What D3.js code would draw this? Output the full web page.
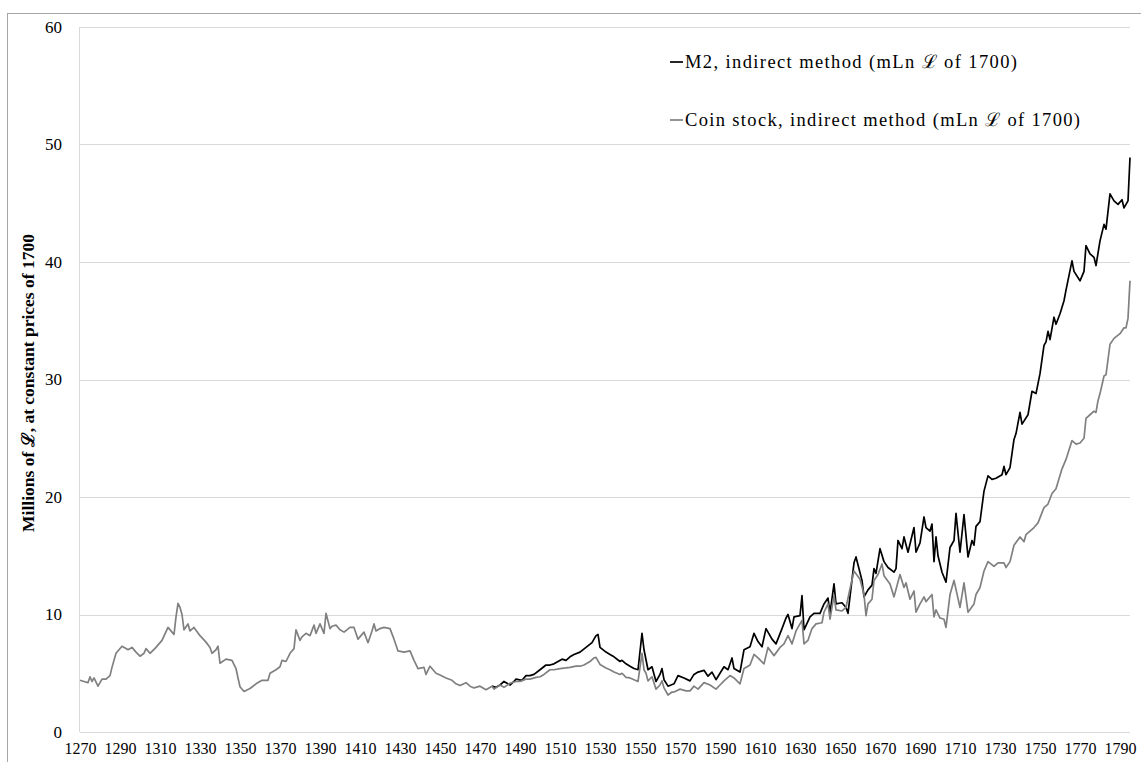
<!DOCTYPE html>
<html><head><meta charset="utf-8">
<script src="https://cdn.jsdelivr.net/npm/d3@7"></script>
<style>body{margin:0;background:#fff}svg{display:block}text{font-family:"Liberation Serif","DejaVu Serif",serif}</style>
</head><body>
<svg id="c" width="1141" height="762"></svg>
<script>
const yearTicks = d3.range(1270, 1791, 20);
const yTicks = [0, 10, 20, 30, 40, 50, 60];
const seriesNames = ["M2, indirect method (mLn \u2112 of 1700)", "Coin stock, indirect method (mLn \u2112 of 1700)"];
const yTitle = "Millions of \u2112, at constant prices of 1700";

const coinYears = [1270,1272,1274,1275,1276,1277,1279,1281,1283,1285,1286,1288,1291,1293,1294,1296,1298,1300,1302,1303,1305,1308,1311,1314,1316,1317,1318,1319,1320,1321,1322,1324,1325,1327,1330,1333,1335,1336,1338,1339,1340,1343,1346,1348,1349,1350,1352,1355,1358,1361,1364,1365,1368,1370,1371,1373,1375,1377,1378,1380,1381,1383,1385,1387,1388,1390,1392,1393,1395,1396,1398,1400,1402,1405,1407,1409,1412,1414,1416,1417,1418,1420,1422,1425,1427,1429,1432,1435,1437,1439,1442,1443,1445,1448,1450,1453,1456,1458,1460,1463,1465,1467,1470,1473,1476,1477,1480,1482,1485,1488,1490,1493,1495,1498,1500,1502,1505,1507,1510,1513,1515,1518,1520,1522,1525,1527,1528,1530,1533,1535,1537,1540,1541,1543,1545,1547,1549,1551,1552,1553,1554,1556,1558,1560,1561,1562,1564,1566,1567,1570,1573,1575,1577,1579,1582,1585,1588,1590,1592,1595,1597,1600,1602,1604,1605,1607,1609,1612,1614,1617,1620,1622,1624,1626,1628,1631,1632,1634,1636,1638,1641,1642,1644,1645,1647,1648,1651,1653,1655,1657,1660,1662,1663,1664,1666,1667,1669,1671,1672,1675,1677,1680,1682,1683,1685,1687,1688,1690,1692,1693,1696,1697,1698,1700,1702,1703,1705,1707,1710,1712,1714,1717,1718,1720,1722,1724,1727,1729,1732,1733,1735,1737,1740,1742,1743,1747,1749,1752,1754,1756,1758,1761,1763,1766,1768,1770,1772,1773,1775,1777,1778,1779,1780,1782,1783,1785,1787,1790,1792,1793,1794,1795];
const coinValues = [4.4,4.3,4.2,4.7,4.3,4.6,3.9,4.5,4.5,4.8,5.5,6.7,7.3,7.1,7.0,7.2,6.8,6.45,6.7,7.1,6.7,7.2,7.8,8.9,8.5,8.3,9.8,10.95,10.6,10.0,8.7,9.2,8.6,8.9,8.2,7.65,7.2,6.7,7.0,7.3,5.85,6.2,6.1,5.4,4.6,3.85,3.45,3.7,4.1,4.4,4.4,5.0,5.3,5.55,6.1,6.0,6.7,7.1,8.7,7.8,8.1,8.4,8.2,9.1,8.4,9.2,8.4,10.1,8.8,9.0,9.1,8.7,8.5,8.9,8.9,7.9,8.5,7.6,8.6,9.2,8.6,8.8,8.9,8.8,7.9,6.9,6.8,6.9,6.1,5.4,5.5,4.9,5.6,5.0,4.85,4.6,4.4,4.1,3.95,4.2,3.9,3.75,3.9,3.6,3.9,3.65,4.0,3.8,4.15,4.3,4.3,4.5,4.5,4.65,4.7,4.9,5.3,5.3,5.4,5.45,5.5,5.6,5.6,5.7,6.0,6.3,6.35,5.75,5.45,5.3,5.1,4.9,5.0,4.65,4.6,4.45,4.3,6.7,5.3,5.0,4.35,4.7,3.65,4.0,4.35,3.75,3.15,3.4,3.4,3.65,3.5,3.5,3.9,3.65,4.2,4.0,3.65,4.0,4.35,4.8,4.6,4.1,5.4,5.6,5.7,6.6,6.3,5.8,7.2,6.5,7.2,7.5,8.2,7.5,8.6,9.5,7.5,7.8,8.8,9.2,9.3,10.2,10.9,9.6,11.6,10.4,10.3,10.6,12.2,13.7,13.0,11.7,9.9,10.9,11.3,12.9,13.4,14.3,13.3,12.6,11.5,13.4,12.3,12.7,11.3,12.0,10.2,10.9,11.5,11.1,11.7,9.8,10.4,9.7,9.6,8.9,11.7,12.9,10.6,12.7,10.2,10.9,11.7,12.3,13.7,14.5,14.1,14.4,14.4,14.0,14.5,15.9,16.6,16.2,16.8,17.4,17.8,19.1,19.4,20.3,20.7,22.4,23.2,24.8,24.5,24.6,25.0,26.7,27.0,27.3,27.2,28.2,28.8,30.3,30.4,33.0,33.5,33.9,34.4,34.4,35.2,38.4];

const m2Years = [1476,1478,1480,1482,1485,1487,1488,1491,1493,1495,1497,1500,1503,1505,1507,1509,1511,1513,1515,1517,1520,1523,1526,1528,1529,1530,1533,1535,1537,1540,1541,1543,1545,1547,1549,1551,1552,1554,1556,1558,1560,1561,1562,1564,1567,1569,1572,1575,1577,1579,1582,1584,1586,1588,1590,1592,1594,1596,1597,1600,1602,1605,1607,1609,1611,1613,1616,1618,1621,1623,1624,1626,1627,1630,1631,1632,1635,1637,1640,1642,1644,1645,1647,1648,1651,1653,1654,1657,1658,1661,1662,1664,1666,1667,1668,1670,1672,1674,1677,1678,1679,1681,1682,1684,1687,1688,1690,1692,1693,1695,1696,1697,1698,1699,1701,1703,1705,1707,1708,1710,1712,1714,1716,1717,1718,1720,1722,1724,1726,1728,1731,1732,1733,1735,1737,1738,1740,1741,1744,1746,1748,1750,1752,1753,1754,1755,1757,1758,1760,1762,1763,1766,1767,1770,1772,1773,1775,1777,1778,1780,1782,1783,1785,1787,1789,1791,1792,1794,1795];
const m2Values = [3.9,3.8,4.0,4.3,4.0,4.3,4.5,4.4,4.8,4.8,4.9,5.3,5.7,5.7,5.8,6.0,6.2,6.1,6.4,6.6,6.8,7.2,7.6,8.2,8.3,7.2,6.8,6.6,6.4,6.0,6.1,5.8,5.6,5.4,5.3,8.4,7.0,5.3,5.55,4.3,4.9,5.4,4.45,3.9,4.1,4.8,4.6,4.35,4.9,5.1,5.25,4.75,5.1,4.45,5.0,5.55,5.3,6.3,5.4,5.1,7.0,7.25,8.4,7.7,7.25,8.8,7.9,7.5,8.8,9.7,10.0,8.8,9.8,9.9,11.6,8.7,9.8,10.1,10.1,10.9,11.4,10.1,12.6,10.9,11.0,10.6,10.1,14.4,14.9,12.9,11.5,12.1,12.5,13.9,13.5,15.6,14.5,14.0,13.6,13.9,16.3,15.6,16.6,15.3,17.4,15.3,16.1,18.3,17.4,17.1,17.7,14.5,16.6,15.0,13.6,12.75,15.7,16.3,18.6,15.3,18.5,14.9,16.3,15.9,17.5,17.9,20.5,21.8,21.5,21.6,21.9,22.6,21.9,22.5,24.9,25.4,27.2,26.2,27.0,29.0,28.8,30.5,32.9,33.2,34.1,33.4,35.3,34.7,35.6,36.7,37.6,40.1,39.2,38.4,39.2,41.4,40.7,40.4,39.7,41.8,43.2,42.8,45.8,45.2,44.9,45.3,44.6,45.2,48.9];

const svg = d3.select("#c");
const x = d3.scaleLinear().domain([1270, 1795]).range([80, 1130]);
const y = d3.scaleLinear().domain([0, 60]).range([732, 27]);

// outer border
svg.append("rect").attr("x", 7.5).attr("y", 13.5).attr("width", 1200).attr("height", 800)
  .attr("fill", "none").attr("stroke", "#a6a6a6").attr("stroke-width", 1);

// gridlines
svg.append("g").selectAll("line").data(yTicks).join("line")
  .attr("x1", 80).attr("x2", 1130)
  .attr("y1", d => Math.round(y(d)) + 0.5).attr("y2", d => Math.round(y(d)) + 0.5)
  .attr("stroke", "#d9d9d9").attr("stroke-width", 1);
svg.append("line").attr("x1", 79.5).attr("x2", 79.5).attr("y1", y(60)).attr("y2", y(0))
  .attr("stroke", "#d9d9d9");

// y axis
const yAxis = d3.axisLeft(y).tickValues(yTicks).tickSize(0).tickPadding(0);
const gy = svg.append("g").attr("transform", "translate(62,0)").call(yAxis);
gy.select(".domain").remove();
gy.selectAll("text").attr("font-size", 17).attr("fill", "#000")
  .attr("font-family", '"Liberation Serif",serif');

// x axis
const xAxis = d3.axisBottom(x).tickValues(yearTicks).tickFormat(d3.format("d")).tickSize(0).tickPadding(0);
const gx = svg.append("g").attr("transform", "translate(0,743)").call(xAxis);
gx.select(".domain").remove();
gx.selectAll("text").attr("font-size", 16).attr("fill", "#000")
  .attr("font-family", '"Liberation Serif",serif');

// y title
svg.append("text").attr("transform", "translate(34,383) rotate(-90)")
  .attr("text-anchor", "middle").attr("font-size", 17.5).attr("font-weight", "bold")
  .text(yTitle);

const line = d3.line().x(d => x(d[0])).y(d => y(d[1]));
const m2Data = m2Years.map((yr, i) => [yr, m2Values[i]]);
const coinData = coinYears.map((yr, i) => [yr, coinValues[i]]);
svg.append("path").datum(m2Data).attr("d", line).attr("fill", "none")
  .attr("stroke", "#000").attr("stroke-width", 1.7).attr("stroke-linejoin", "round");
svg.append("path").datum(coinData).attr("d", line).attr("fill", "none")
  .attr("stroke", "#808080").attr("stroke-width", 1.7).attr("stroke-linejoin", "round");

// legend
const legend = [
  {name: seriesNames[0], color: "#000", ky: 62, w: 332},
  {name: seriesNames[1], color: "#808080", ky: 120, w: 395}
];
const lg = svg.append("g");
legend.forEach(l => {
  lg.append("line").attr("x1", 670).attr("x2", 683).attr("y1", l.ky).attr("y2", l.ky)
    .attr("stroke", l.color).attr("stroke-width", 1.7);
  lg.append("text").attr("x", 685).attr("y", l.ky + 6).attr("font-size", 18.5)
    .attr("textLength", l.w).attr("lengthAdjust", "spacing")
    .attr("fill", "#000").text(l.name);
});
</script>
</body></html>
